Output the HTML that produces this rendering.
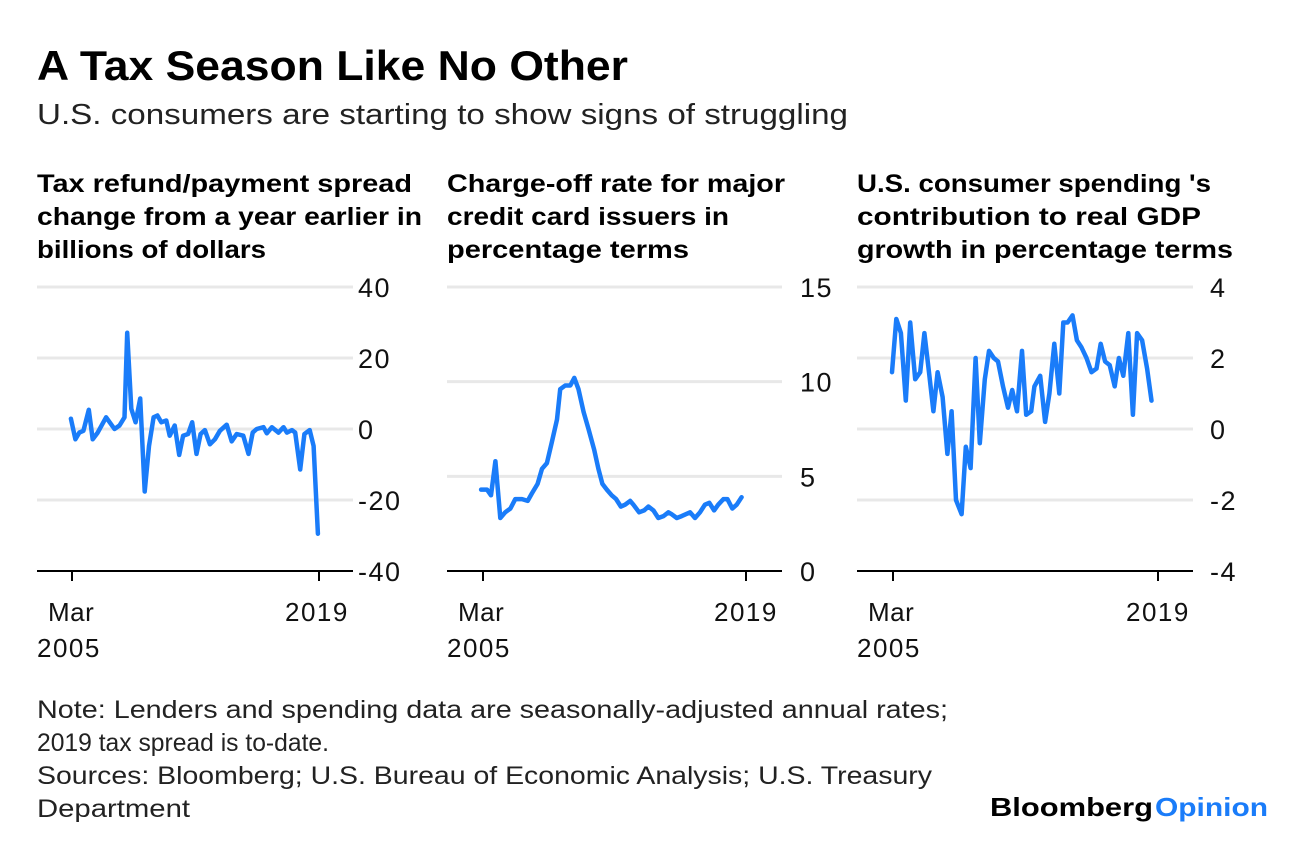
<!DOCTYPE html>
<html><head><meta charset="utf-8"><style>
html,body{margin:0;padding:0;background:#fff;}
svg{display:block;font-family:"Liberation Sans",sans-serif;}
</style></head><body>
<svg id="root" width="1296" height="842" viewBox="0 0 1296 842">
<text x="37" y="80" font-size="42" font-weight="bold" textLength="591" lengthAdjust="spacingAndGlyphs">A Tax Season Like No Other</text>
<text x="37" y="124" font-size="29" fill="#222" textLength="811" lengthAdjust="spacingAndGlyphs">U.S. consumers are starting to show signs of struggling</text>
<g font-size="25" font-weight="bold">
<text x="37" y="192" textLength="375" lengthAdjust="spacingAndGlyphs">Tax refund/payment spread</text>
<text x="37" y="225" textLength="385" lengthAdjust="spacingAndGlyphs">change from a year earlier in</text>
<text x="37" y="258" textLength="229" lengthAdjust="spacingAndGlyphs">billions of dollars</text>
<text x="447" y="192" textLength="338" lengthAdjust="spacingAndGlyphs">Charge-off rate for major</text>
<text x="447" y="225" textLength="282" lengthAdjust="spacingAndGlyphs">credit card issuers in</text>
<text x="447" y="258" textLength="242" lengthAdjust="spacingAndGlyphs">percentage terms</text>
<text x="857" y="192" textLength="354" lengthAdjust="spacingAndGlyphs">U.S. consumer spending 's</text>
<text x="857" y="225" textLength="344" lengthAdjust="spacingAndGlyphs">contribution to real GDP</text>
<text x="857" y="258" textLength="376" lengthAdjust="spacingAndGlyphs">growth in percentage terms</text>
</g>
<g id="charts"></g>
<g font-size="25" fill="#222">
<text x="37" y="718" textLength="911" lengthAdjust="spacingAndGlyphs">Note: Lenders and spending data are seasonally-adjusted annual rates;</text>
<text x="37" y="751" textLength="292" lengthAdjust="spacingAndGlyphs">2019 tax spread is to-date.</text>
<text x="37" y="784" textLength="895" lengthAdjust="spacingAndGlyphs">Sources: Bloomberg; U.S. Bureau of Economic Analysis; U.S. Treasury</text>
<text x="37" y="817" textLength="153" lengthAdjust="spacingAndGlyphs">Department</text>
</g>
<text x="990" y="816" font-size="26" font-weight="bold"><tspan textLength="163" lengthAdjust="spacingAndGlyphs">Bloomberg</tspan><tspan fill="#1a7cf9" x="1155" textLength="113" lengthAdjust="spacingAndGlyphs">Opinion</tspan></text>
</svg>
<script>
const taxYears=[2005.11,2005.36,2005.58,2005.81,2006.11,2006.33,2006.61,2007.08,2007.55,2007.83,2008.11,2008.26,2008.49,2008.73,2008.99,2009.24,2009.48,2009.74,2009.95,2010.17,2010.45,2010.64,2010.92,2011.17,2011.39,2011.67,2011.90,2012.14,2012.37,2012.61,2012.89,2013.17,2013.45,2013.83,2014.11,2014.39,2014.76,2015.05,2015.29,2015.51,2015.89,2016.08,2016.36,2016.73,2017.01,2017.20,2017.48,2017.67,2017.95,2018.18,2018.48,2018.70,2018.94];
const taxValues=[2.9,-2.9,-1,-0.5,5.4,-2.9,-1,3.3,0,1,3.3,27.1,5.7,1.9,8.6,-17.6,-4.8,3.3,3.8,1.9,2.4,-1.9,1,-7.3,-1.9,-1.4,1.9,-7,-1.4,-0.3,-4.3,-2.9,-0.5,1.2,-3.5,-1.4,-1.9,-7,-1,0,0.5,-1.2,0.5,-1,0.5,-1,-0.3,-1,-11.4,-1.4,-0.3,-4.8,-29.5];
const taxTicks=[40,20,0,-20,-40];
const coYears=[2005.07,2005.38,2005.59,2005.82,2006.08,2006.34,2006.61,2006.87,2007.22,2007.52,2007.74,2008.04,2008.27,2008.53,2008.79,2009.06,2009.23,2009.49,2009.76,2009.97,2010.19,2010.46,2010.72,2011.02,2011.24,2011.45,2011.68,2011.94,2012.17,2012.42,2012.64,2012.91,2013.08,2013.38,2013.64,2013.87,2014.13,2014.39,2014.66,2014.92,2015.09,2015.36,2015.62,2016.06,2016.32,2016.58,2016.84,2017.07,2017.32,2017.54,2017.81,2018.02,2018.28,2018.51,2018.77];
const coValues=[4.3,4.3,4.0,5.8,2.8,3.1,3.3,3.8,3.8,3.7,4.1,4.6,5.4,5.7,6.8,8.0,9.6,9.8,9.8,10.2,9.6,8.4,7.5,6.4,5.4,4.6,4.3,4.0,3.8,3.4,3.5,3.7,3.5,3.1,3.2,3.4,3.2,2.8,2.9,3.1,3.0,2.8,2.9,3.1,2.8,3.1,3.5,3.6,3.2,3.5,3.8,3.8,3.3,3.5,3.9];
const coTicks=[15,10,5,0];
const gdpYears=[2005.12,2005.34,2005.58,2005.84,2006.07,2006.33,2006.59,2006.81,2007.07,2007.28,2007.50,2007.76,2008.01,2008.23,2008.46,2008.75,2008.97,2009.22,2009.48,2009.70,2009.96,2010.18,2010.43,2010.65,2010.91,2011.17,2011.39,2011.64,2011.90,2012.12,2012.38,2012.55,2012.85,2013.11,2013.33,2013.59,2013.85,2014.06,2014.28,2014.54,2014.77,2015.01,2015.27,2015.53,2015.79,2016.01,2016.24,2016.48,2016.74,2016.96,2017.19,2017.45,2017.69,2017.91,2018.17,2018.43,2018.66];
const gdpValues=[1.6,3.1,2.7,0.8,3.0,1.4,1.6,2.7,1.5,0.5,1.6,0.9,-0.7,0.5,-2.0,-2.4,-0.5,-1.1,2.0,-0.4,1.4,2.2,2.0,1.9,1.2,0.6,1.1,0.5,2.2,0.4,0.5,1.2,1.5,0.2,1.0,2.4,1.0,3.0,3.0,3.2,2.5,2.3,2.0,1.6,1.7,2.4,1.9,1.8,1.2,2.0,1.5,2.7,0.4,2.7,2.5,1.7,0.8];
const gdpTicks=[4,2,0,-2,-4];

const NS='http://www.w3.org/2000/svg';
const g=document.getElementById('charts');
function mk(tag,attrs,parent){const e=document.createElementNS(NS,tag);for(const k in attrs)e.setAttribute(k,attrs[k]);(parent||g).appendChild(e);return e;}
const panels=[
 {id:'tax',years:taxYears,vals:taxValues,ticks:taxTicks,x0:37,x1:353,t0:72,t1:319,lx:358,min:-40,max:40,xr:[285,'2019']},
 {id:'chargeoff',years:coYears,vals:coValues,ticks:coTicks,x0:447,x1:782,t0:483,t1:746,lx:800,min:0,max:15,xr:[714,'2019']},
 {id:'gdp',years:gdpYears,vals:gdpValues,ticks:gdpTicks,x0:857,x1:1193,t0:893,t1:1158,lx:1210,min:-4,max:4,xr:[1126,'2019']}
];
const yTop=287,yBot=571;
panels.forEach(p=>{
 const xs=v=>p.t0+(v-2005.17)/(2019-2005.17)*(p.t1-p.t0);
 const ys=v=>yBot-(v-p.min)/(p.max-p.min)*(yBot-yTop);
 p.ticks.forEach(t=>{
  if(t!==p.min){
   const l=mk('line',{x1:p.x0,x2:p.x1,y1:ys(t),y2:ys(t),stroke:'#e8e8e8','stroke-width':3});
   
   
  }
  const tx=mk('text',{x:p.lx,y:ys(t)+10,'font-size':27,fill:'#111','letter-spacing':1.5});
  tx.textContent=t;
  
  
 });
 const ax=mk('line',{x1:p.x0,x2:p.x1,y1:yBot,y2:yBot,stroke:'#000','stroke-width':2});
 
 
 [p.t0,p.t1].forEach(x=>{
  const tk=mk('line',{x1:x,x2:x,y1:yBot,y2:yBot+10,stroke:'#000','stroke-width':2});
  
  
 });
 const l1=mk('text',{x:p.x0+11,y:621,'font-size':26,fill:'#111','letter-spacing':0.5});l1.textContent='Mar';
 
 
 const l2=mk('text',{x:p.x0,y:657,'font-size':26,fill:'#111','letter-spacing':1.5});l2.textContent='2005';
 
 
 const l3=mk('text',{x:p.xr[0],y:621,'font-size':26,fill:'#111','letter-spacing':1.5});l3.textContent=p.xr[1];
 
 
 const d=p.years.map((y,i)=>(i?'L':'M')+xs(y).toFixed(1)+' '+ys(p.vals[i]).toFixed(1)).join(' ');
 const path=mk('path',{d:d,fill:'none',stroke:'#1a7cf9','stroke-width':4.5,'stroke-linejoin':'round','stroke-linecap':'round'});
 
 
});
</script>
</body></html>
